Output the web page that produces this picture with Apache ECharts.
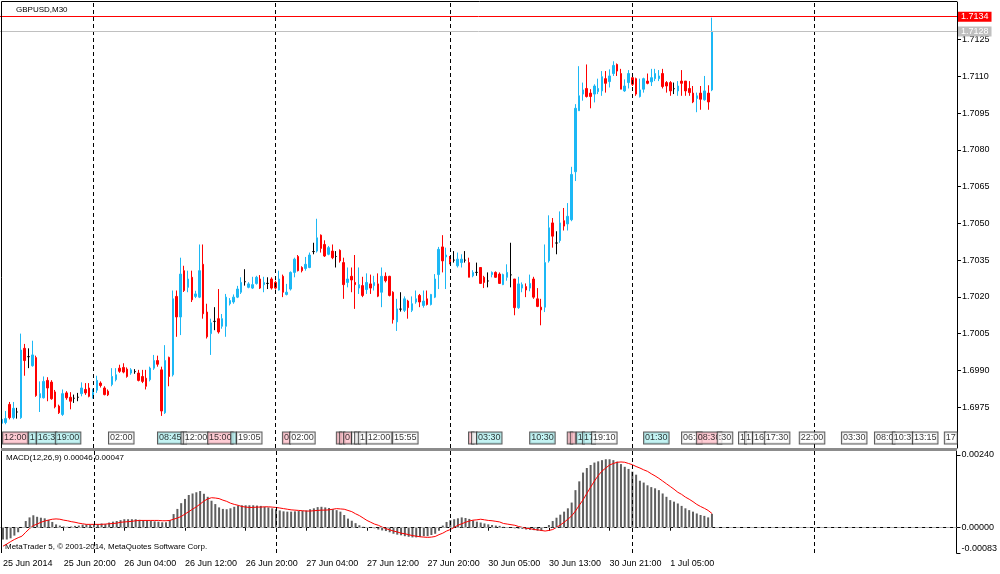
<!DOCTYPE html>
<html><head><meta charset="utf-8">
<script src="https://cdn.jsdelivr.net/npm/echarts@6/dist/echarts.min.js"></script>
<style>html,body{margin:0;padding:0;background:#fff}#c{width:1000px;height:574px}</style>
</head><body><div id="c"></div>
<script>
// ---------- data ----------
const symbolTitle = 'GBPUSD,M30';
const copyright = 'MetaTrader 5, \u00a9 2001-2014, MetaQuotes Software Corp.';
const slotCount = 252; // bar slots on the time axis (188 bars + empty right margin)
const priceTicks = [1.6975, 1.6990, 1.7005, 1.7020, 1.7035, 1.7050, 1.7065, 1.7080, 1.7095, 1.7110, 1.7125];
const macdTicks = [0.00240, 0.00000, -0.00083];
const dateLabels = ['25 Jun 2014', '25 Jun 20:00', '26 Jun 04:00', '26 Jun 12:00', '26 Jun 20:00', '27 Jun 04:00',
  '27 Jun 12:00', '27 Jun 20:00', '30 Jun 05:00', '30 Jun 13:00', '30 Jun 21:00', '1 Jul 05:00'];
const dateLabelBars = [0, 16, 32, 48, 64, 80, 96, 112, 128, 144, 160, 176];
const daySeparatorBars = [24, 72, 118, 166, 214];
const bidPrice = 1.71284;
const askPrice = 1.71344;

// candles: [open, close, low, high]
const candles = [
[1.69684,1.69700,1.69677,1.69707],[1.69687,1.69703,1.69680,1.69734],[1.69761,1.69707,1.69700,1.69771],[1.69707,1.69745,1.69700,1.69771],
[1.69730,1.69730,1.69703,1.69747],[1.69707,1.69983,1.69702,1.70050],[1.69990,1.69940,1.69878,1.70008],[1.69956,1.69956,1.69909,1.69990],
[1.69919,1.69963,1.69915,1.70021],[1.69952,1.69797,1.69792,1.69960],[1.69788,1.69805,1.69730,1.69855],[1.69788,1.69855,1.69785,1.69875],
[1.69859,1.69828,1.69774,1.69872],[1.69852,1.69784,1.69780,1.69860],[1.69812,1.69751,1.69745,1.69820],[1.69754,1.69727,1.69722,1.69760],
[1.69720,1.69805,1.69714,1.69822],[1.69808,1.69788,1.69780,1.69815],[1.69790,1.69774,1.69741,1.69811],[1.69786,1.69786,1.69767,1.69801],
[1.69790,1.69790,1.69774,1.69808],[1.69805,1.69828,1.69794,1.69851],[1.69822,1.69808,1.69800,1.69848],[1.69828,1.69794,1.69790,1.69848],
[1.69794,1.69810,1.69785,1.69825],[1.69819,1.69859,1.69808,1.69878],[1.69848,1.69838,1.69830,1.69855],[1.69828,1.69801,1.69798,1.69835],
[1.69815,1.69800,1.69795,1.69822],[1.69842,1.69875,1.69835,1.69909],[1.69862,1.69882,1.69855,1.69909],[1.69909,1.69896,1.69890,1.69923],
[1.69912,1.69893,1.69888,1.69929],[1.69905,1.69875,1.69870,1.69912],[1.69889,1.69902,1.69882,1.69909],[1.69895,1.69895,1.69886,1.69905],
[1.69889,1.69859,1.69855,1.69902],[1.69875,1.69855,1.69848,1.69902],[1.69868,1.69835,1.69822,1.69902],[1.69862,1.69909,1.69855,1.69915],
[1.69909,1.69940,1.69902,1.69963],[1.69940,1.69925,1.69915,1.69960],[1.69902,1.69734,1.69714,1.69915],[1.69727,1.69940,1.69722,1.70003],
[1.69953,1.69875,1.69835,1.69956],[1.69882,1.70192,1.69875,1.70226],[1.70202,1.70118,1.70037,1.70226],[1.70118,1.70293,1.70044,1.70360],
[1.70307,1.70226,1.70220,1.70327],[1.70239,1.70273,1.70219,1.70307],[1.70280,1.70188,1.70179,1.70307],[1.70202,1.70212,1.70195,1.70225],
[1.70199,1.70307,1.70195,1.70414],[1.70333,1.70131,1.70111,1.70414],[1.70138,1.70037,1.70030,1.70172],[1.70050,1.70094,1.69963,1.70111],
[1.70100,1.70100,1.70064,1.70158],[1.70111,1.70057,1.70050,1.70232],[1.70080,1.70111,1.70070,1.70130],[1.70080,1.70199,1.70037,1.70212],
[1.70172,1.70185,1.70165,1.70195],[1.70179,1.70199,1.70172,1.70210],[1.70199,1.70232,1.70195,1.70245],[1.70219,1.70259,1.70212,1.70280],
[1.70262,1.70262,1.70246,1.70313],[1.70239,1.70253,1.70235,1.70260],[1.70236,1.70250,1.70232,1.70282],[1.70255,1.70280,1.70250,1.70286],
[1.70273,1.70236,1.70232,1.70289],[1.70250,1.70259,1.70219,1.70282],[1.70255,1.70255,1.70232,1.70280],[1.70273,1.70236,1.70230,1.70280],
[1.70259,1.70236,1.70230,1.70266],[1.70228,1.70273,1.70226,1.70307],[1.70284,1.70219,1.70199,1.70291],[1.70210,1.70219,1.70206,1.70253],
[1.70232,1.70300,1.70226,1.70304],[1.70300,1.70354,1.70280,1.70360],[1.70365,1.70307,1.70304,1.70371],[1.70320,1.70307,1.70300,1.70325],
[1.70316,1.70333,1.70307,1.70363],[1.70320,1.70371,1.70317,1.70381],[1.70385,1.70385,1.70374,1.70421],[1.70387,1.70441,1.70381,1.70519],
[1.70452,1.70398,1.70381,1.70455],[1.70414,1.70367,1.70363,1.70431],[1.70374,1.70401,1.70370,1.70408],[1.70387,1.70360,1.70354,1.70414],
[1.70365,1.70365,1.70320,1.70387],[1.70390,1.70347,1.70340,1.70394],[1.70340,1.70250,1.70192,1.70360],[1.70259,1.70273,1.70239,1.70320],
[1.70284,1.70269,1.70219,1.70320],[1.70259,1.70250,1.70151,1.70371],[1.70236,1.70250,1.70212,1.70320],[1.70246,1.70206,1.70199,1.70282],
[1.70230,1.70259,1.70212,1.70296],[1.70253,1.70236,1.70212,1.70291],[1.70246,1.70259,1.70226,1.70286],[1.70253,1.70203,1.70199,1.70296],
[1.70219,1.70284,1.70158,1.70320],[1.70284,1.70266,1.70259,1.70300],[1.70284,1.70206,1.70202,1.70286],[1.70219,1.70107,1.70091,1.70223],
[1.70098,1.70151,1.70061,1.70192],[1.70150,1.70150,1.70140,1.70219],[1.70145,1.70192,1.70138,1.70202],[1.70183,1.70156,1.70111,1.70188],
[1.70145,1.70172,1.70138,1.70202],[1.70179,1.70192,1.70172,1.70226],[1.70206,1.70179,1.70158,1.70212],[1.70165,1.70183,1.70156,1.70226],
[1.70192,1.70169,1.70165,1.70226],[1.70169,1.70210,1.70165,1.70212],[1.70199,1.70273,1.70195,1.70293],[1.70291,1.70394,1.70232,1.70404],
[1.70404,1.70347,1.70300,1.70452],[1.70363,1.70371,1.70232,1.70401],[1.70354,1.70340,1.70333,1.70367],[1.70350,1.70350,1.70340,1.70387],
[1.70327,1.70354,1.70320,1.70381],[1.70340,1.70354,1.70320,1.70374],[1.70350,1.70350,1.70340,1.70387],[1.70340,1.70280,1.70280,1.70360],
[1.70286,1.70300,1.70280,1.70309],[1.70300,1.70300,1.70286,1.70340],[1.70320,1.70255,1.70253,1.70320],[1.70280,1.70259,1.70236,1.70286],
[1.70265,1.70265,1.70239,1.70300],[1.70291,1.70300,1.70280,1.70304],[1.70300,1.70280,1.70278,1.70304],[1.70293,1.70255,1.70253,1.70300],
[1.70250,1.70291,1.70248,1.70295],[1.70280,1.70300,1.70266,1.70333],[1.70290,1.70290,1.70239,1.70421],[1.70273,1.70156,1.70125,1.70273],
[1.70156,1.70253,1.70151,1.70282],[1.70236,1.70250,1.70219,1.70259],[1.70242,1.70228,1.70199,1.70255],[1.70236,1.70255,1.70223,1.70291],
[1.70273,1.70199,1.70192,1.70282],[1.70192,1.70161,1.70158,1.70236],[1.70158,1.70147,1.70084,1.70192],[1.70158,1.70340,1.70138,1.70414],
[1.70347,1.70482,1.70340,1.70533],[1.70502,1.70448,1.70401,1.70522],[1.70420,1.70420,1.70374,1.70468],[1.70430,1.70502,1.70421,1.70549],
[1.70511,1.70489,1.70471,1.70563],[1.70498,1.70529,1.70471,1.70583],[1.70515,1.70700,1.70509,1.70731],[1.70711,1.70970,1.70673,1.70987],
[1.70960,1.71021,1.70960,1.71142],[1.71028,1.71045,1.71001,1.71075],[1.71051,1.71018,1.71014,1.71149],[1.71032,1.71018,1.70970,1.71048],
[1.71028,1.71061,1.70994,1.71068],[1.71038,1.71051,1.71028,1.71091],[1.71041,1.71099,1.71021,1.71122],[1.71091,1.71072,1.71034,1.71122],
[1.71079,1.71102,1.71055,1.71129],[1.71112,1.71145,1.71102,1.71162],[1.71149,1.71122,1.71102,1.71153],[1.71112,1.71048,1.71048,1.71131],
[1.71041,1.71061,1.71037,1.71088],[1.71075,1.71112,1.71051,1.71126],[1.71095,1.71068,1.71061,1.71112],[1.71091,1.71028,1.71021,1.71095],
[1.71018,1.71045,1.71014,1.71091],[1.71048,1.71091,1.71034,1.71095],[1.71081,1.71072,1.71068,1.71112],[1.71078,1.71095,1.71061,1.71131],
[1.71091,1.71112,1.71081,1.71131],[1.71091,1.71102,1.71081,1.71126],[1.71112,1.71059,1.71051,1.71131],[1.71075,1.71061,1.71034,1.71081],
[1.71075,1.71041,1.71021,1.71081],[1.71050,1.71050,1.71028,1.71075],[1.71041,1.71061,1.71021,1.71081],[1.71081,1.71072,1.71021,1.71126],
[1.71081,1.71041,1.71021,1.71081],[1.71051,1.71034,1.71021,1.71081],[1.71032,1.70996,1.70991,1.71061],[1.71010,1.71021,1.70954,1.71034],
[1.71032,1.71007,1.70964,1.71061],[1.71005,1.71041,1.71001,1.71102],[1.71032,1.70996,1.70964,1.71064],[1.71045,1.71284,1.71040,1.71340]
];

const macdMain = [
-0.00039,-0.00039,-0.00035,-0.00026,-0.00015,0.00001,0.00022,0.00034,0.00041,0.00036,
0.00033,0.00031,0.00026,0.00019,0.00011,0.00007,0.00004,0.00003,0.00004,0.00006,
0.00007,0.00010,0.00011,0.00010,0.00012,0.00012,0.00014,0.00012,0.00017,0.00020,
0.00022,0.00025,0.00028,0.00028,0.00028,0.00028,0.00026,0.00025,0.00024,0.00022,
0.00021,0.00020,0.00018,0.00018,0.00025,0.00045,0.00062,0.00081,0.00095,0.00108,
0.00113,0.00117,0.00121,0.00112,0.00102,0.00089,0.00078,0.00067,0.00062,0.00061,
0.00064,0.00069,0.00073,0.00074,0.00074,0.00074,0.00074,0.00073,0.00072,0.00069,
0.00067,0.00064,0.00061,0.00057,0.00054,0.00053,0.00053,0.00054,0.00055,0.00056,
0.00057,0.00061,0.00064,0.00068,0.00069,0.00067,0.00065,0.00061,0.00058,0.00053,
0.00042,0.00030,0.00023,0.00015,0.00008,0.00003,0.00001,-0.00001,-0.00002,-0.00006,
-0.00009,-0.00011,-0.00015,-0.00020,-0.00023,-0.00025,-0.00028,-0.00030,-0.00032,-0.00032,
-0.00030,-0.00028,-0.00028,-0.00024,-0.00020,-0.00010,0.00007,0.00019,0.00025,0.00028,
0.00031,0.00034,0.00032,0.00029,0.00024,0.00020,0.00017,0.00014,0.00011,0.00009,
0.00007,0.00006,0.00003,0.00001,-0.00001,-0.00002,-0.00003,-0.00004,-0.00006,-0.00007,
-0.00008,-0.00010,-0.00011,0.00001,0.00009,0.00022,0.00033,0.00043,0.00053,0.00064,
0.00083,0.00124,0.00153,0.00182,0.00197,0.00207,0.00215,0.00219,0.00223,0.00226,
0.00226,0.00223,0.00218,0.00210,0.00201,0.00194,0.00185,0.00175,0.00155,0.00149,
0.00140,0.00134,0.00130,0.00124,0.00113,0.00102,0.00091,0.00086,0.00080,0.00072,
0.00064,0.00058,0.00053,0.00047,0.00042,0.00039,0.00034,0.00046
];

const macdSignal = [
-0.00061,-0.00054,-0.00046,-0.00039,-0.00033,-0.00028,-0.00015,-0.00003,0.00007,0.00012,
0.00018,0.00022,0.00025,0.00028,0.00029,0.00028,0.00025,0.00023,0.00020,0.00018,
0.00015,0.00013,0.00011,0.00011,0.00011,0.00011,0.00011,0.00012,0.00013,0.00014,
0.00015,0.00018,0.00019,0.00020,0.00021,0.00023,0.00024,0.00024,0.00024,0.00024,
0.00024,0.00024,0.00023,0.00023,0.00024,0.00028,0.00032,0.00037,0.00045,0.00053,
0.00061,0.00069,0.00078,0.00088,0.00095,0.00099,0.00098,0.00096,0.00091,0.00087,
0.00081,0.00077,0.00074,0.00070,0.00068,0.00067,0.00067,0.00068,0.00068,0.00069,
0.00069,0.00068,0.00067,0.00065,0.00063,0.00061,0.00059,0.00058,0.00057,0.00056,
0.00055,0.00055,0.00056,0.00057,0.00058,0.00058,0.00059,0.00061,0.00063,0.00062,
0.00061,0.00057,0.00053,0.00046,0.00040,0.00032,0.00024,0.00018,0.00012,0.00008,
0.00002,-0.00003,-0.00007,-0.00011,-0.00014,-0.00018,-0.00020,-0.00023,-0.00026,-0.00028,
-0.00030,-0.00031,-0.00032,-0.00031,-0.00029,-0.00023,-0.00018,-0.00011,-0.00006,0.00001,
0.00008,0.00013,0.00018,0.00022,0.00025,0.00026,0.00028,0.00026,0.00024,0.00023,
0.00021,0.00019,0.00014,0.00012,0.00010,0.00008,0.00004,0.00001,-0.00002,-0.00003,
-0.00006,-0.00007,-0.00009,-0.00011,-0.00009,-0.00006,0.00001,0.00009,0.00018,0.00028,
0.00039,0.00055,0.00074,0.00092,0.00113,0.00134,0.00154,0.00172,0.00187,0.00197,
0.00207,0.00212,0.00216,0.00217,0.00216,0.00212,0.00208,0.00202,0.00197,0.00191,
0.00186,0.00178,0.00171,0.00163,0.00154,0.00145,0.00136,0.00127,0.00117,0.00110,
0.00101,0.00094,0.00086,0.00077,0.00070,0.00064,0.00057,0.00047
];

// calendar event tags: [bar position, text, kind]
const eventTags = [
[0.3,'12:00','p'],[7.1,'1','c'],[9.2,'16:3','c'],[14.2,'19:00','c'],
[28.2,'02:00','w'],[41.1,'08:45','c'],[47.3,' ','w'],[47.9,'12:00','w'],[54.3,'15:00','p'],[60.4,' ','c'],[61.9,'19:05','w'],
[74.0,'0','p'],[75.9,'02:00','w'],[88.2,' ','p'],[89.0,' ','p'],[90.1,'0','p'],[92.2,' ','w'],[93.0,' ','w'],[94.0,'1','w'],[96.1,'12:00','w'],[103.0,'15:55','w'],
[123.0,' ','p'],[123.8,' ','w'],[125.1,'03:30','c'],[139.1,'10:30','c'],[149.0,' ','p'],[149.8,' ','p'],[151.4,'1','c'],[153.0,'17','c'],[155.4,'19:10','w'],
[169.1,'01:30','c'],[179.1,'06:3','w'],[183.0,'08:30','p'],[188.5,':30','w'],[194.1,'1','w'],[195.7,'1','w'],[197.8,'16','w'],[200.9,'17:30','w'],
[210.1,'22:00','w'],[221.2,'03:30','w'],[229.9,'08:0','w'],[234.6,'10:3','w'],[239.9,'13:15','w'],[248.3,'17','w']
];

// ---------- styling ----------
const FONT = 'Liberation Sans';
const BULL = '#1cb8f5', BEAR = '#ff0000';
const tagColors = { p: '#ffc0cb', c: '#b4f0f0', w: '#ffffff' };
const slots = Array.from({ length: slotCount }, (_, i) => String(i));
const labelMap = new Map(dateLabelBars.map((b, k) => [b, dateLabels[k]]));

const candleData = candles.map(c => c[0] === c[1]
  ? { value: c, itemStyle: { color: '#000', color0: '#000', borderColor: '#000', borderColor0: '#000' } }
  : c);

const sepStyle = { color: '#000', width: 1, type: [4, 3] };
const sepLines = daySeparatorBars.map(b => ({ xAxis: b, lineStyle: sepStyle, label: { show: false } }));
const priceLineLabel = (bg) => ({ show: true, position: 'end', distance: 1, formatter: p => Number(p.value).toFixed(4),
  color: '#fff', backgroundColor: bg, padding: [1, 3, 0, 3], fontFamily: FONT, fontSize: 9 });

const chart = echarts.init(document.getElementById('c'), null, { renderer: 'canvas' });
chart.setOption({
  animation: false,
  backgroundColor: '#fff',
  grid: [
    { left: 0, top: 2, width: 957, height: 446 },
    { left: 0, top: 432, width: 957, height: 12 },
    { left: 0, top: 451, width: 957, height: 102 }
  ],
  xAxis: [
    { type: 'category', gridIndex: 0, data: slots, boundaryGap: true, show: false },
    { type: 'value', gridIndex: 1, min: -0.5, max: slotCount - 0.5, show: false },
    { type: 'category', gridIndex: 2, data: slots, boundaryGap: true,
      axisLine: { show: true, lineStyle: { color: '#000', width: 1 } },
      axisTick: { show: true, alignWithLabel: true, length: 3, interval: (i) => labelMap.has(i), lineStyle: { color: '#000' } },
      axisLabel: { show: true, interval: (i) => labelMap.has(i), formatter: (v, i) => labelMap.get(i) || '',
        align: 'left', margin: 6, color: '#000', fontFamily: FONT, fontSize: 9 },
      splitLine: { show: false } }
  ],
  yAxis: [
    { type: 'value', gridIndex: 0, position: 'right', min: 1.69583, max: 1.71404,
      axisLine: { show: true, lineStyle: { color: '#000' } },
      axisTick: { show: true, length: 4, customValues: priceTicks, lineStyle: { color: '#000' } },
      axisLabel: { customValues: priceTicks, formatter: v => v.toFixed(4), margin: 5, color: '#000', fontFamily: FONT, fontSize: 9 },
      splitLine: { show: false } },
    { type: 'value', gridIndex: 1, min: 0, max: 1, show: false },
    { type: 'value', gridIndex: 2, position: 'right', min: -0.000835, max: 0.002532,
      axisLine: { show: true, lineStyle: { color: '#000' } },
      axisTick: { show: true, length: 4, customValues: macdTicks, lineStyle: { color: '#000' } },
      axisLabel: { customValues: macdTicks, margin: 5, color: '#000', fontFamily: FONT, fontSize: 9,
        formatter: v => v < 0 ? '{lo|' + v.toFixed(5) + '}' : v.toFixed(5),
        rich: { lo: { padding: [0, 0, 8, 0], fontFamily: FONT, fontSize: 9, color: '#000' } } },
      splitLine: { show: false } }
  ],
  series: [
    { type: 'candlestick', xAxisIndex: 0, yAxisIndex: 0, data: candleData, barWidth: 2, z: 3,
      itemStyle: { color: BULL, color0: BEAR, borderColor: BULL, borderColor0: BEAR, borderColorDoji: '#000', borderWidth: 1 } },
    // helper series holding the day separators and the bid / ask price lines of the price panel
    { type: 'line', xAxisIndex: 0, yAxisIndex: 0, data: [], silent: true, z: 4,
      markLine: { silent: true, symbol: 'none', animation: false, precision: 5,
        data: [
          ...sepLines,
          { yAxis: bidPrice, lineStyle: { color: '#c0c0c0', width: 1, type: 'solid' }, label: priceLineLabel('#c0c0c0') },
          { yAxis: askPrice, lineStyle: { color: '#ff0000', width: 1, type: 'solid' }, label: priceLineLabel('#ff0000') }
        ] } },
    { type: 'scatter', xAxisIndex: 1, yAxisIndex: 1, symbolSize: 0, silent: true, z: 5,
      data: eventTags.map(e => ({ value: [e[0], 0.5], name: e[1],
        label: { backgroundColor: tagColors[e[2]] } })),
      label: { show: true, position: 'right', distance: 0, formatter: '{b}', color: '#000', fontFamily: FONT, fontSize: 9,
        lineHeight: 10, padding: [1, 1, 0, 1], borderColor: '#333', borderWidth: 1, backgroundColor: '#fff' } },
    { type: 'bar', xAxisIndex: 2, yAxisIndex: 2, data: macdMain, barWidth: 2, itemStyle: { color: '#5f5f5f' } },
    { type: 'line', xAxisIndex: 2, yAxisIndex: 2, data: [], silent: true,
      markLine: { silent: true, symbol: 'none', animation: false, precision: 6, label: { show: false },
        data: [
          { yAxis: 0, lineStyle: { color: '#b0b0b0', width: 1, type: [4, 3] } },
          ...sepLines
        ] } },
    { type: 'line', xAxisIndex: 2, yAxisIndex: 2, data: macdSignal, symbol: 'none', z: 4,
      lineStyle: { color: '#ff0000', width: 1 } }
  ],
  graphic: [
    { type: 'line', z: 50, shape: { x1: 1.5, y1: 1.5, x2: 1.5, y2: 553 }, style: { stroke: '#000', lineWidth: 1 } },
    { type: 'line', z: 50, shape: { x1: 1.5, y1: 1.5, x2: 957, y2: 1.5 }, style: { stroke: '#000', lineWidth: 1 } },
    { type: 'rect', z: 50, shape: { x: 1, y: 448, width: 956, height: 3 }, style: { fill: '#8c8c8c' } },
    { type: 'text', z: 60, x: 16, y: 10, style: { text: symbolTitle, font: '8px "' + FONT + '"', fill: '#000', verticalAlign: 'middle' } },
    { type: 'text', z: 60, x: 6, y: 458, style: {
        text: 'MACD(12,26,9) ' + macdMain[macdMain.length - 1].toFixed(5) + ' ' + macdSignal[macdSignal.length - 1].toFixed(5),
        font: '8px "' + FONT + '"', fill: '#000', verticalAlign: 'middle' } },
    { type: 'text', z: 1, x: 5, y: 547, style: { text: copyright, font: '8px "' + FONT + '"', fill: '#000', verticalAlign: 'middle' } }
  ]
});
</script>
</body></html>
